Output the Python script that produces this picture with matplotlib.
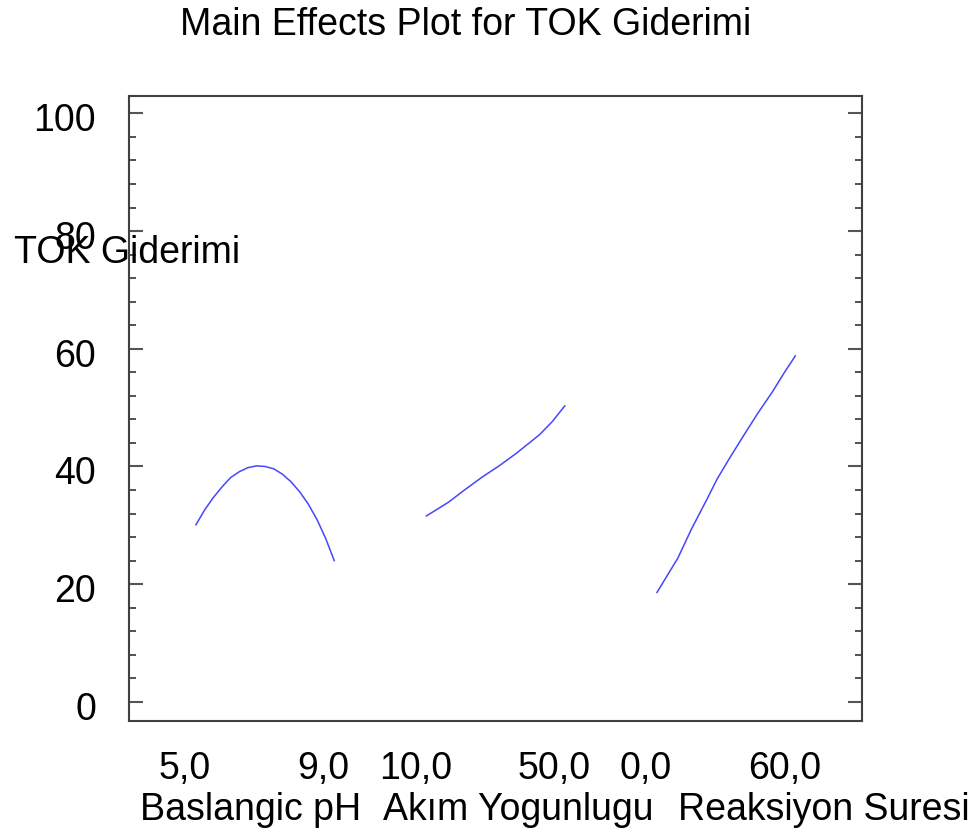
import numpy as np
import matplotlib
matplotlib.use("Agg")
import matplotlib.pyplot as plt
from matplotlib.transforms import ScaledTranslation
from matplotlib.ticker import MultipleLocator

plt.rcParams['font.family'] = ['Liberation Sans', 'DejaVu Sans']

# factor names and low/high levels
factors = ["Baslangic pH", "Akım Yogunlugu", "Reaksiyon Suresi"]
lows = [5.0, 10.0, 0.0]
highs = [9.0, 50.0, 60.0]

# fitted TOK Giderimi
ph_x = [5.0, 5.25, 5.5, 5.75, 6.0, 6.25, 6.5, 6.75, 7.0, 7.25, 7.5, 7.75,
        8.0, 8.25, 8.5, 8.75, 9.0]
ph_y = [30.1, 32.6, 34.7, 36.5, 38.1, 39.1, 39.8, 40.1, 40.0, 39.6, 38.7,
        37.4, 35.7, 33.6, 31.0, 27.8, 24.0]
akim_x = [10.0, 16.3, 21.0, 26.1, 31.0, 35.9, 42.7, 46.5, 50.0]
akim_y = [31.6, 33.9, 36.0, 38.2, 40.1, 42.2, 45.4, 47.7, 50.3]
sure_x = [0.0, 4.5, 9.0, 15.0, 21.5, 26.0, 31.0, 38.3, 44.0, 50.1, 55.0, 60.0]
sure_y = [18.6, 21.5, 24.4, 29.4, 34.3, 37.8, 41.1, 45.7, 49.2, 52.7, 55.8, 58.8]

curves = [(ph_x, ph_y), (akim_x, akim_y), (sure_x, sure_y)]
tick_text = ["5,0", "9,0", "10,0", "50,0", "0,0", "60,0"]

span = 0.6  # part of each panel taken by the curve
name_pos = [-0.243, 0.811, 2.091]
fs = 27

fig = plt.figure(figsize=(9.73, 8.36), dpi=100)
ax = fig.add_axes([0.1329, 0.1379, 0.7527, 0.7476])

ticks = []
for i, (xs, ys) in enumerate(curves):
    xs = np.array(xs)
    pos = i + (xs - lows[i]) / (highs[i] - lows[i]) * span
    ax.plot(pos, ys, color='#4646ff', lw=1.1)
    ticks += [i, i + span]

ax.set_xlim(-0.289, 2.888)
ax.set_ylim(-3.2, 103.0)

ax.set_xticks(ticks)
ax.set_xticklabels(tick_text, fontsize=fs)
ax.tick_params(axis='x', length=0, pad=22)
off = ScaledTranslation(-11 / 100, 0, fig.dpi_scale_trans)
for lab in ax.get_xticklabels():
    lab.set_transform(lab.get_transform() + off)

ax.yaxis.set_major_locator(MultipleLocator(20))
ax.yaxis.set_minor_locator(MultipleLocator(4))
ax.tick_params(axis='y', which='major', direction='in', length=10, width=1.5,
               color='#555555', labelsize=fs, pad=24, right=True)
ax.tick_params(axis='y', which='minor', direction='in', length=5, width=1.2,
               color='#333333', right=True)
yoff = ScaledTranslation(0, -4 / 100, fig.dpi_scale_trans)
for lab in ax.get_yticklabels():
    lab.set_transform(lab.get_transform() + yoff)

for s in ax.spines.values():
    s.set_linewidth(1.5)
    s.set_color('#404040')

ax.set_ylabel("TOK Giderimi", rotation=0, fontsize=fs, ha='left', va='baseline')
ax.yaxis.set_label_coords(-0.1574, 0.7323)

for name, xp in zip(factors, name_pos):
    ax.text(xp, -0.1589, name, fontsize=fs, ha='left', va='baseline',
            transform=ax.get_xaxis_transform())

fig.text(0.4784, 0.958, "Main Effects Plot for TOK Giderimi", fontsize=fs,
         ha='center', va='baseline')

fig.savefig("out.png", dpi=100)
